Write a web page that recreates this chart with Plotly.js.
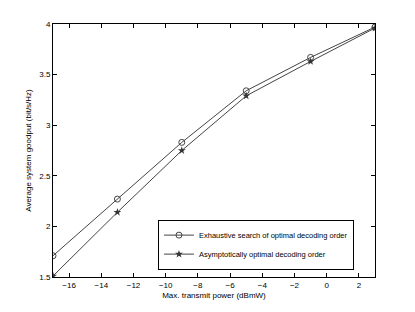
<!DOCTYPE html>
<html><head><meta charset="utf-8">
<script src="https://cdn.plot.ly/plotly-3.0.1.min.js"></script>
<style>html,body{margin:0;padding:0;background:#fff;}#plot{width:415px;height:312px;}</style>
</head><body><div id="plot"></div>
<script>
var power = [-17, -13, -9, -5, -1, 3];
var exhaustive = [1.71, 2.27, 2.83, 3.34, 3.67, 3.97];
var asymptotic = [1.51, 2.14, 2.75, 3.29, 3.63, 3.96];
var xTicks = [-16, -14, -12, -10, -8, -6, -4, -2, 0, 2];
var yTicks = [1.5, 2, 2.5, 3, 3.5, 4];

var traces = [
  {x: power, y: exhaustive, name: 'Exhaustive search of optimal decoding order', mode: 'lines+markers',
   line: {color: '#444', width: 1}, marker: {symbol: 'circle-open', size: 6, color: '#444', line: {width: 1}}},
  {x: power, y: asymptotic, name: 'Asymptotically optimal decoding order', mode: 'lines+markers',
   line: {color: '#444', width: 1}, marker: {symbol: 'star', size: 6, color: '#333'}}
];
var axisCommon = {showgrid: false, zeroline: false, showline: true, linecolor: '#000', linewidth: 1,
  mirror: 'allticks', ticks: 'inside', ticklen: 4, tickcolor: '#000',
  tickfont: {family: 'Liberation Sans, Arial, sans-serif', size: 8, color: '#000'}};
var layout = {
  width: 415, height: 312, paper_bgcolor: '#fff', plot_bgcolor: '#fff',
  margin: {l: 53, r: 40, t: 24, b: 35},
  xaxis: Object.assign({}, axisCommon, {range: [-17, 3], tickvals: xTicks,
    title: {text: 'Max. transmit power (dBmW)', standoff: 3, font: {family: 'Liberation Sans, Arial, sans-serif', size: 8, color: '#000'}}}),
  yaxis: Object.assign({}, axisCommon, {range: [1.5, 4], tickvals: yTicks,
    title: {text: 'Average system goodput (bit/s/Hz)', standoff: 6, font: {family: 'Liberation Sans, Arial, sans-serif', size: 8, color: '#000'}}}),
  showlegend: true,
  legend: {x: 0.326, y: 0.128, xanchor: 'left', yanchor: 'middle', bgcolor: '#fff', bordercolor: '#000', borderwidth: 1,
    font: {family: 'Liberation Sans, Arial, sans-serif', size: 7.5, color: '#000'}, tracegroupgap: 0, itemwidth: 30}
};
Plotly.newPlot('plot', traces, layout, {displayModeBar: false, staticPlot: true});
</script></body></html>
